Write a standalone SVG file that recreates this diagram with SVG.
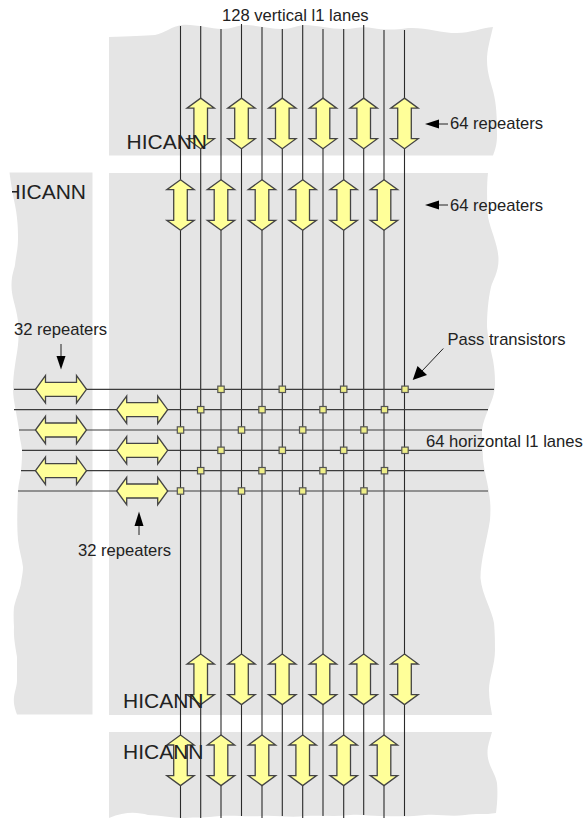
<svg xmlns="http://www.w3.org/2000/svg" width="584" height="818" viewBox="0 0 584 818">
<style>
.panel{fill:#e5e5e5;stroke:none}
.lane{stroke:#2a2a2a;stroke-width:1.1;fill:none}
.hlane{stroke:#3c3c3c;stroke-width:1.2;fill:none}
.rep{fill:#ffff99;stroke:#444;stroke-width:1.3;stroke-linejoin:miter}
.pass{fill:#eeee88;stroke:#555;stroke-width:1.2}
.t{font-family:"Liberation Sans",Arial,sans-serif;font-size:16.6px;fill:#222}
.h{font-family:"Liberation Sans",Arial,sans-serif;font-size:21px;fill:#222}
.ptr{stroke:#222;stroke-width:1;fill:none}
.tip{fill:#000;stroke:none}
</style>
<defs>
<path id="v" class="rep" d="M0,-25.3L13.7,-15.3H6.8V15.3H13.7L0,25.3L-13.7,15.3H-6.8V-15.3H-13.7Z"/>
<path id="hr" class="rep" d="M-25.5,0L-15.5,-13.7V-7H15.5V-13.7L25.5,0L15.5,13.7V7H-15.5V13.7Z"/>
<rect id="p" class="pass" x="-3.2" y="-3.2" width="6.4" height="6.4"/>
<clipPath id="leftClip"><rect x="12" y="170" width="90" height="40"/></clipPath>
</defs>
<g id="panels">
<path id="panel-top" class="panel" d="M109,37 C130,36 145,36 155,35 C165,33 172,26 182,25 C195,24 210,29 222,29 C232,29 238,25 245,25 C255,25 270,29 282,29 C292,29 298,25 305,25 C315,25 330,29 345,29 C355,29 362,26 372,28 C385,30 395,30 408,28 C425,27 440,33 457,33 C470,33 482,28 493,27 C490,40 487,50 487,60 C487,75 492,85 494,95 C497,108 497,125 497,135 C497,145 495,150 493,155.5 L109,155.5Z"/>
<path id="panel-main" class="panel" d="M109,173 H488 C486.500,185 487,205 488,217 C491,232 498.500,245 498.500,260 C498.500,272 493,280 491,287 C488,300 487,315 487,327 C488,340 491,350 493,360 C495,372 495,378 495,383 C495,395 491,402 488,410 C485,418 482,425 482,433 C482,445 483,452 483,460 C485,475 488,484 489,493 C491,505 490.500,512 490,520 C487,540 480.500,560 480.500,578 C482,595 492,610 494,623 C495,635 495,642 495,650 C495,665 489,678 489,690 C489,700 491,708 492,715 H109Z"/>
<path id="panel-left" class="panel" d="M9.500,172.500 H92.500 V714.500 H17 C14,706 13.500,702 14,697 C15,690 17,686 17,680 C17,672 17,665 17,657 C15,645 13.500,637 14,627 C13.500,620 13.500,612 14,607 C16,598 20,590 21,583 C22,576 23,572 23,567 C22,558 19,550 18,540 C17,528 17,515 18,491 C19,480 21,476 21,470.700 C22,462 22,456 22,450 C21,442 19,436 19,430 C17,415 13,400 13,389 C13,372 17,355 18,345 C19,335 19,325 17,315 C15,303 11.500,297 11.500,285 C11.500,275 14,270 15,265 C16,255 18,250 18,238 C18,225 17,215 15,205 C13,195 11,185 9.500,172.500Z"/>
<path id="panel-bottom" class="panel" d="M109,732 H492 C490,740 487.500,745 487.500,753 C487.500,765 495,772 497,783 C498,795 497,805 496,813 C485,815 475,813 465,815 C450,817 440,814 425,815 C410,817 395,816 380,816 C370,816 362,814 350,815 C335,817 320,815 305,816 C290,818 275,815 262,816 C245,817 235,815 220,816 C205,818 195,817 185,818 C170,818 160,815 148,815 C138,812 125,811 109,818Z"/>
</g>
<g id="connectors">
<path class="lane" d="M180.500,26V818M200.700,26V818M221,29V818M241.500,24V816M262,27V818M282.300,29V816M302.700,25V818M323,29V816M343.700,29V818M363.700,25V815M384,30V818M404.500,30V816"/>
<path class="hlane" d="M14,389.300H494M14,409.700H488M19,430H482M22,450.300H482M21,470.700H484M18,491H488"/>
<g id="pointers">
<path class="ptr" d="M438,124H448M438,205H448M61,344V358M139,523V535M422,371L443.300,348.500"/>
<path class="tip" d="M425,124L439,119.500V128.500Z"/>
<path class="tip" d="M425,205L439,200.500V209.500Z"/>
<path class="tip" d="M61,369.500L56.500,356H65.500Z"/>
<path class="tip" d="M139,511.500L134.500,526H143.500Z"/>
<path class="tip" d="M412.700,380L417.500,366L427,375Z"/>
</g>
</g>
<g id="repeaters-top">
<use href="#v" x="200.700" y="123.400"/><use href="#v" x="241.500" y="123.400"/><use href="#v" x="282.300" y="123.400"/><use href="#v" x="323" y="123.400"/><use href="#v" x="363.700" y="123.400"/><use href="#v" x="404.500" y="123.400"/>
</g>
<g id="repeaters-upper">
<use href="#v" x="180.500" y="205"/><use href="#v" x="221" y="205"/><use href="#v" x="262" y="205"/><use href="#v" x="302.700" y="205"/><use href="#v" x="343.700" y="205"/><use href="#v" x="384" y="205"/>
</g>
<g id="repeaters-lower">
<use href="#v" x="200.700" y="679.300"/><use href="#v" x="241.500" y="679.300"/><use href="#v" x="282.300" y="679.300"/><use href="#v" x="323" y="679.300"/><use href="#v" x="363.700" y="679.300"/><use href="#v" x="404.500" y="679.300"/>
</g>
<g id="repeaters-bottom">
<use href="#v" x="180.500" y="760.300"/><use href="#v" x="221" y="760.300"/><use href="#v" x="262" y="760.300"/><use href="#v" x="302.700" y="760.300"/><use href="#v" x="343.700" y="760.300"/><use href="#v" x="384" y="760.300"/>
</g>
<g id="repeaters-left">
<use href="#hr" x="61" y="389.300"/><use href="#hr" x="61" y="430"/><use href="#hr" x="61" y="470.700"/>
</g>
<g id="repeaters-right">
<use href="#hr" x="142.200" y="409.700"/><use href="#hr" x="142.200" y="450.300"/><use href="#hr" x="142.200" y="491"/>
</g>
<g id="pass-transistors">
<use href="#p" x="221" y="389.300"/><use href="#p" x="282.300" y="389.300"/><use href="#p" x="343.700" y="389.300"/><use href="#p" x="405" y="389.300"/>
<use href="#p" x="200.700" y="409.700"/><use href="#p" x="262" y="409.700"/><use href="#p" x="323" y="409.700"/><use href="#p" x="384.500" y="409.700"/>
<use href="#p" x="180.500" y="430"/><use href="#p" x="241.500" y="430"/><use href="#p" x="302.700" y="430"/><use href="#p" x="364" y="430"/>
<use href="#p" x="221" y="450.300"/><use href="#p" x="282.300" y="450.300"/><use href="#p" x="343.700" y="450.300"/><use href="#p" x="405" y="450.300"/>
<use href="#p" x="200.700" y="470.700"/><use href="#p" x="262" y="470.700"/><use href="#p" x="323" y="470.700"/><use href="#p" x="384.500" y="470.700"/>
<use href="#p" x="180.500" y="491"/><use href="#p" x="241.500" y="491"/><use href="#p" x="302.700" y="491"/><use href="#p" x="364" y="491"/>
</g>
<g id="labels">
<text class="t" x="222" y="21">128 vertical l1 lanes</text>
<text class="t" x="450" y="129.300">64 repeaters</text>
<text class="t" x="450" y="210.500">64 repeaters</text>
<text class="t" x="14" y="335">32 repeaters</text>
<text class="t" x="78" y="556">32 repeaters</text>
<text class="t" x="447.500" y="345">Pass transistors</text>
<text class="t" x="426" y="446.500">64 horizontal l1 lanes</text>
<text class="h" x="126.500" y="148.500">HICANN</text>
<text class="h" x="5.500" y="199" clip-path="url(#leftClip)">HICANN</text>
<text class="h" x="123" y="707.500">HICANN</text>
<text class="h" x="123" y="758.500">HICANN</text>
</g>
</svg>
